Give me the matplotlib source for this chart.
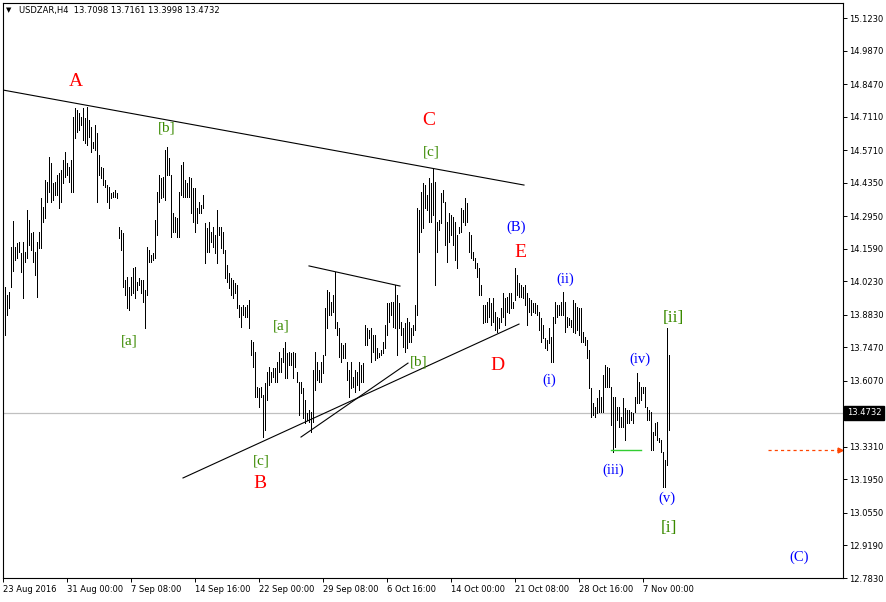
import numpy as np
import matplotlib
matplotlib.use("Agg")
import matplotlib.pyplot as plt
import matplotlib.transforms as mtransforms

# H4 bars, high / low (bar index 0 = 23 Aug 2016)
highs = [
    13.979, 14.000, 13.966, 13.979, 14.167, 14.275, 14.167, 14.181, 14.188, 14.140,
    14.188, 14.146, 14.321, 14.279, 14.223, 14.230, 14.146, 14.188, 14.230, 14.369,
    14.335, 14.446, 14.439, 14.543, 14.516, 14.432, 14.439, 14.467, 14.474, 14.488,
    14.529, 14.564, 14.516, 14.502, 14.529, 14.711, 14.745, 14.738, 14.724, 14.711,
    14.745, 14.704, 14.752, 14.697, 14.669, 14.606, 14.676, 14.641, 14.550, 14.502,
    14.495, 14.446, 14.425, 14.418, 14.390, 14.397, 14.404, 14.390, 14.251, 14.237,
    14.223, 14.028, 14.042, 14.000, 14.042, 14.077, 14.084, 14.021, 14.035, 14.028,
    14.028, 13.986, 14.167, 14.153, 14.133, 14.140, 14.279, 14.397, 14.467, 14.453,
    14.460, 14.571, 14.585, 14.536, 14.467, 14.307, 14.293, 14.286, 14.397, 14.509,
    14.522, 14.446, 14.432, 14.460, 14.453, 14.411, 14.411, 14.328, 14.355, 14.342,
    14.383, 14.265, 14.244, 14.272, 14.230, 14.251, 14.216, 14.321, 14.251, 14.251,
    14.230,
    14.153, 14.091, 14.056, 14.035, 14.028, 14.014, 14.007, 13.924, 13.917, 13.924,
    13.917, 13.924, 13.945, 13.778, 13.771, 13.729, 13.583, 13.576, 13.583, 13.548,
    13.596, 13.645, 13.666, 13.645, 13.659, 13.659, 13.687, 13.729, 13.701, 13.743,
    13.771, 13.722, 13.729, 13.722, 13.729, 13.722, 13.645, 13.603, 13.603, 13.576,
    13.527, 13.471, 13.485, 13.478, 13.652, 13.729, 13.687, 13.652, 13.687, 13.715,
    13.910, 13.986, 13.979, 13.938, 13.966, 14.063, 13.854, 13.826, 13.764, 13.757,
    13.764, 13.687, 13.652, 13.687, 13.624, 13.652, 13.645, 13.687, 13.673, 13.680,
    13.840, 13.826, 13.819, 13.826, 13.798, 13.798, 13.743, 13.722, 13.736, 13.771,
    13.840, 13.931, 13.931, 13.938, 13.938, 14.007, 13.966, 13.931, 13.854, 13.826,
    13.847, 13.868, 13.854, 13.826, 13.840, 13.924, 14.328, 14.321, 14.397, 14.432,
    14.425, 14.383, 14.453, 14.432, 14.495, 14.439, 14.272, 14.279, 14.390, 14.404,
    14.355, 14.272, 14.307, 14.300, 14.293, 14.272, 14.216, 14.251, 14.328, 14.321,
    14.369, 14.349, 14.230, 14.216, 14.146, 14.119, 14.098, 14.077, 14.007, 13.924,
    13.924, 13.938, 13.952, 13.931, 13.952, 13.896, 13.875, 13.868, 13.910, 13.973,
    13.952, 13.959, 13.973, 13.973, 13.938, 14.077, 14.049, 14.014, 14.007, 14.000,
    14.007, 13.973, 13.952, 13.945, 13.931, 13.931, 13.924, 13.896, 13.868, 13.840,
    13.785, 13.778, 13.826, 13.791, 13.875, 13.938, 13.924, 13.924, 13.938, 13.979,
    13.938, 13.875, 13.868, 13.861, 13.945, 13.931, 13.917, 13.910,
    13.910, 13.812, 13.792, 13.778, 13.736, 13.576, 13.513, 13.499, 13.534, 13.569,
    13.541, 13.631, 13.673, 13.666, 13.659, 13.583, 13.541, 13.541, 13.499, 13.499,
    13.457, 13.534, 13.492, 13.485, 13.485, 13.478, 13.471, 13.541, 13.638, 13.603,
    13.583, 13.583, 13.583, 13.499, 13.485, 13.478, 13.394, 13.429, 13.436, 13.367,
    13.360, 13.311, 13.276, 13.826, 13.7161,
]
lows = [
    13.436, 13.798, 13.882, 13.910, 14.000, 14.066, 14.112, 14.119, 14.146, 14.063,
    13.954, 14.105, 14.119, 14.174, 14.153, 14.105, 14.049, 13.959, 14.160, 14.160,
    14.272, 14.286, 14.355, 14.397, 14.355, 14.362, 14.383, 14.383, 14.328, 14.355,
    14.432, 14.460, 14.467, 14.439, 14.397, 14.397, 14.620, 14.648, 14.655, 14.676,
    14.613, 14.599, 14.592, 14.627, 14.564, 14.578, 14.571, 14.355, 14.467, 14.453,
    14.425, 14.418, 14.355, 14.328, 14.369, 14.376, 14.376, 14.369, 14.202, 14.153,
    14.000, 13.966, 13.910, 13.903, 13.966, 13.973, 13.952, 13.986, 14.007, 13.973,
    13.938, 13.826, 13.966, 14.105, 14.105, 14.112, 14.119, 14.216, 14.355, 14.369,
    14.376, 14.362, 14.467, 14.467, 14.209, 14.230, 14.230, 14.209, 14.209, 14.383,
    14.376, 14.376, 14.376, 14.376, 14.307, 14.272, 14.230, 14.265, 14.307, 14.307,
    14.328, 14.098, 14.146, 14.146, 14.188, 14.167, 14.140, 14.098, 14.216, 14.160,
    14.140,
    14.035, 14.021, 13.993, 13.966, 13.952, 13.973, 13.910, 13.875, 13.833, 13.882,
    13.875, 13.875, 13.826, 13.715, 13.666, 13.541, 13.541, 13.499, 13.541, 13.374,
    13.401, 13.527, 13.589, 13.603, 13.624, 13.603, 13.603, 13.645, 13.645, 13.687,
    13.617, 13.617, 13.673, 13.673, 13.617, 13.666, 13.603, 13.464, 13.555, 13.450,
    13.429, 13.443, 13.436, 13.394, 13.436, 13.569, 13.610, 13.603, 13.603, 13.638,
    13.715, 13.826, 13.882, 13.882, 13.896, 13.826, 13.798, 13.708, 13.687, 13.701,
    13.701, 13.610, 13.541, 13.576, 13.583, 13.562, 13.589, 13.569, 13.603, 13.603,
    13.757, 13.757, 13.785, 13.687, 13.729, 13.694, 13.701, 13.708, 13.715, 13.722,
    13.743, 13.798, 13.854, 13.882, 13.833, 13.826, 13.715, 13.826, 13.798, 13.750,
    13.729, 13.743, 13.771, 13.771, 13.798, 13.819, 13.882, 14.146, 14.230, 14.244,
    14.328, 14.321, 14.272, 14.272, 14.300, 14.007, 14.146, 14.237, 14.265, 14.355,
    14.174, 14.105, 14.188, 14.216, 14.174, 14.112, 14.077, 14.223, 14.230, 14.272,
    14.258, 14.272, 14.146, 14.119, 14.112, 14.077, 14.042, 13.966, 13.966, 13.847,
    13.854, 13.854, 13.875, 13.840, 13.854, 13.819, 13.812, 13.826, 13.854, 13.875,
    13.840, 13.896, 13.889, 13.910, 13.910, 13.945, 13.966, 13.959, 13.959, 13.952,
    13.924, 13.840, 13.896, 13.882, 13.896, 13.889, 13.882, 13.819, 13.771, 13.785,
    13.743, 13.736, 13.764, 13.687, 13.687, 13.847, 13.875, 13.882, 13.882, 13.882,
    13.812, 13.833, 13.840, 13.833, 13.812, 13.805, 13.819, 13.798,
    13.771, 13.771, 13.757, 13.701, 13.576, 13.457, 13.464, 13.457, 13.471, 13.478,
    13.478, 13.478, 13.583, 13.583, 13.583, 13.422, 13.311, 13.332, 13.443, 13.415,
    13.415, 13.415, 13.360, 13.429, 13.429, 13.443, 13.429, 13.478, 13.513, 13.513,
    13.527, 13.555, 13.499, 13.443, 13.443, 13.318, 13.318, 13.381, 13.360, 13.353,
    13.311, 13.165, 13.165, 13.255, 13.3998,
]
last_price = 13.4732
header = "USDZAR,H4  13.7098 13.7161 13.3998 13.4732"

date_ticks = [0, 32, 64, 96, 128, 160, 192, 224, 256, 288, 320]
date_labels = ["23 Aug 2016", "31 Aug 00:00", "7 Sep 08:00", "14 Sep 16:00",
               "22 Sep 00:00", "29 Sep 08:00", "6 Oct 16:00", "14 Oct 00:00",
               "21 Oct 08:00", "28 Oct 16:00", "7 Nov 00:00"]
price_ticks = [15.1230, 14.9870, 14.8470, 14.7110, 14.5710, 14.4350, 14.2950,
               14.1590, 14.0230, 13.8830, 13.7470, 13.6070, 13.3310, 13.1950,
               13.0550, 12.9190, 12.7830]

# wave labels: (text, bar index, price, colour, size)
RED, BLUE, GREEN = "#ff0000", "#0000ff", "#3a8a00"
labels = [
    ("A", 36.5, 14.856, RED, 14), ("B", 128.5, 13.176, RED, 14),
    ("C", 213, 14.693, RED, 14), ("D", 247, 13.669, RED, 14),
    ("E", 258.5, 14.145, RED, 14),
    ("[b]", 82, 14.663, GREEN, 11), ("[a]", 63, 13.773, GREEN, 11),
    ("[a]", 139, 13.836, GREEN, 11), ("[c]", 129, 13.272, GREEN, 11),
    ("[c]", 214, 14.563, GREEN, 11), ("[b]", 208, 13.686, GREEN, 11),
    ("[ii]", 335, 13.869, GREEN, 12.5), ("[i]", 333, 12.992, GREEN, 12.5),
    ("(B)", 256.5, 14.250, BLUE, 10.5), ("(i)", 273, 13.610, BLUE, 10.5),
    ("(ii)", 281, 14.032, BLUE, 10.5), ("(iii)", 305, 13.234, BLUE, 10.5),
    ("(iv)", 318.5, 13.698, BLUE, 10.5), ("(v)", 332, 13.117, BLUE, 10.5),
    ("(C)", 398, 12.871, BLUE, 10.5),
]
# trend lines: (x0, y0, x1, y1)
trend_lines = [
    (0, 14.822, 260.5, 14.425),
    (90, 13.201, 258, 13.844),
    (153, 14.087, 198.5, 14.003),
    (149, 13.372, 202.5, 13.681),
]

W, H = 887, 602
fig = plt.figure(figsize=(W / 100, H / 100), dpi=100)
ax = fig.add_axes([3 / W, 24 / H, 840 / W, 575 / H])

x = np.arange(len(highs))
ax.vlines(x, lows, highs, colors="black", linewidth=0.6, antialiased=False)

ax.axhline(last_price, color="#c0c0c0", linewidth=0.9, zorder=0)

for x0, y0, x1, y1 in trend_lines:
    ax.plot([x0, x1], [y0, y1], color="black", linewidth=0.8)

ax.plot([304, 319], [13.318, 13.318], color="#32cd32", linewidth=1.0)
ax.plot([382.5, 418], [13.318, 13.318], color="#ff4500", linewidth=0.9,
        dashes=(2.5, 2.5))
ax.plot([418.6], [13.318], marker=">", color="#ff4500", markersize=3.5)

for txt, bx, py, col, size in labels:
    ax.text(bx, py, txt, color=col, fontsize=size, family="Liberation Serif",
            ha="center", va="center")

ax.set_xlim(0, 420)
ax.set_ylim(12.783, 12.783 + 575 * 2.34 / 560)

ax.yaxis.tick_right()
ax.set_yticks(price_ticks)
ax.set_yticklabels(["%.4f" % v for v in price_ticks])
ax.set_xticks(date_ticks)
ax.set_xticklabels(date_labels, ha="left")
ax.tick_params(axis="both", direction="out", length=3, width=0.7,
               labelsize=6, colors="black")
ax.tick_params(axis="y", pad=1.5)
ax.tick_params(axis="x", pad=2)
for lab in ax.get_xticklabels() + ax.get_yticklabels():
    lab.set_family("DejaVu Sans")
for sp in ax.spines.values():
    sp.set_linewidth(0.8)
    sp.set_color("black")

trans = mtransforms.blended_transform_factory(ax.transAxes, ax.transData)
ax.text(1.0 + 4 / 840, last_price, "%.4f" % last_price, transform=trans,
        ha="left", va="center", color="white", fontsize=6, family="DejaVu Sans",
        bbox=dict(boxstyle="square,pad=0.3", fc="black", ec="black"),
        clip_on=False)

fig.text(6 / W, 1 - 10 / H, "\u25bc", fontsize=5, va="center", ha="left",
         family="DejaVu Sans")
fig.text(19 / W, 1 - 10 / H, header, fontsize=6, va="center", ha="left",
         family="DejaVu Sans")

fig.savefig("out.png", dpi=100)
